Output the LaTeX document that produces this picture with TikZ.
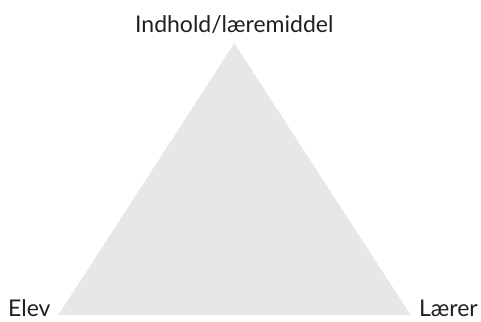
\documentclass[tikz,border=0pt]{standalone}
\usepackage{fontspec}
\setmainfont{Lato}
\usetikzlibrary{positioning}
\definecolor{trifill}{HTML}{E6E7E8}
\definecolor{labeltext}{HTML}{231F20}

\begin{document}
\begin{tikzpicture}[
  x=1pt, y=1pt,
  corner/.style={font=\fontsize{23}{26}\selectfont, text=labeltext, inner sep=0pt},
  triangle/.style={fill=trifill, draw=none},
]

% Frame of the picture
\useasboundingbox (0,0) rectangle (481,321);

% Corners of the triangle
\coordinate (top) at (234.3,277.7);
\coordinate (left) at (58.3,6);
\coordinate (right) at (410.7,6);

\fill[triangle] (top) -- (left) -- (right) -- cycle;

% Labels at the corners
\node[corner, anchor=base] (content) at (234.3,288) {Indhold/læremiddel};
\node[corner, anchor=base west] (pupil) at (8,5) {Elev};
\node[corner, anchor=base east] (teacher) at (478,5) {Lærer};

\end{tikzpicture}
\end{document}
